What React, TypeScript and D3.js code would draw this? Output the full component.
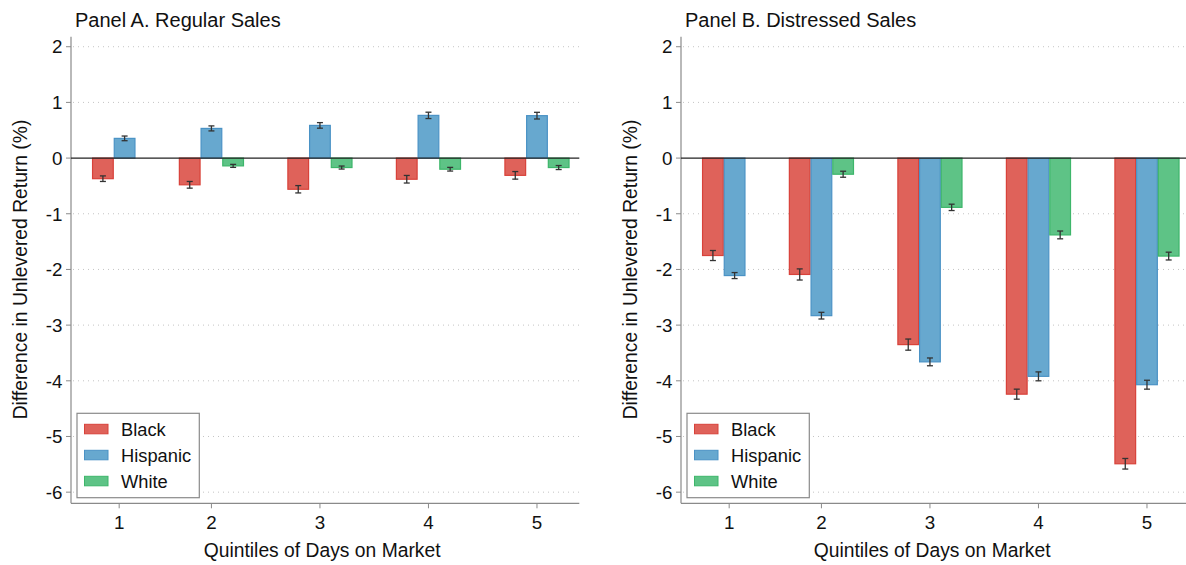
import React from "react";
import * as d3 from "d3";

const quintiles = ["1", "2", "3", "4", "5"];
const seriesNames = ["Black", "Hispanic", "White"];

// Panel A: Regular Sales (value, half-width of error bar); null = not estimated
const regularBlack = [-0.37, -0.48, -0.56, -0.38, -0.31];
const regularBlackErr = [0.05, 0.06, 0.066, 0.068, 0.068];
const regularHispanic = [0.354, 0.533, 0.587, 0.767, 0.762];
const regularHispanicErr = [0.042, 0.045, 0.05, 0.057, 0.06];
const regularWhite: (number | null)[] = [null, -0.14, -0.17, -0.2, -0.17];
const regularWhiteErr = [0, 0.027, 0.027, 0.033, 0.036];

// Panel B: Distressed Sales
const distressedBlack = [-1.75, -2.09, -3.35, -4.24, -5.49];
const distressedBlackErr = [0.09, 0.1, 0.1, 0.09, 0.095];
const distressedHispanic = [-2.11, -2.83, -3.66, -3.92, -4.07];
const distressedHispanicErr = [0.054, 0.06, 0.07, 0.08, 0.08];
const distressedWhite: (number | null)[] = [null, -0.29, -0.885, -1.38, -1.76];
const distressedWhiteErr = [0, 0.054, 0.057, 0.07, 0.07];

const yTicks = [2, 1, 0, -1, -2, -3, -4, -5, -6];

const fills = ["#df625a", "#67a8cf", "#5ec386"];
const strokes = ["#d8423a", "#4a92c5", "#3db66a"];

const FONT = "'Liberation Sans', Arial, Helvetica, sans-serif";

type Panel = {
  title: string;
  values: (number | null)[][];
  errs: number[][];
  left: number;
};

const panels: Panel[] = [
  {
    title: "Panel A. Regular Sales",
    values: [regularBlack, regularHispanic, regularWhite],
    errs: [regularBlackErr, regularHispanicErr, regularWhiteErr],
    left: 71,
  },
  {
    title: "Panel B. Distressed Sales",
    values: [distressedBlack, distressedHispanic, distressedWhite],
    errs: [distressedBlackErr, distressedHispanicErr, distressedWhiteErr],
    left: 681,
  },
];

const TOP = 36.7;
const BOTTOM = 503.3;
const PW = 508.3;
const GAP = 2;

function layout(values: (number | null)[][]) {
  const bars: { g: number; s: number; slot: number; v: number }[] = [];
  const tickPos: number[] = [];
  let cursor = 0;
  quintiles.forEach((_, g) => {
    const start = cursor;
    let n = 0;
    seriesNames.forEach((__, s) => {
      const v = values[s][g];
      if (v !== null && v !== undefined) {
        bars.push({ g, s, slot: cursor, v });
        cursor += 1;
        n += 1;
      }
    });
    const actualCenter = start + n / 2;
    const fullCenter = start + seriesNames.length / 2;
    tickPos.push((actualCenter + fullCenter) / 2);
    cursor += GAP;
  });
  return { bars, tickPos, total: cursor - GAP };
}

function PanelView({ p }: { p: Panel }) {
  const { bars, tickPos, total } = layout(p.values);
  const x = d3.scaleLinear().domain([-0.97, total + 0.45]).range([p.left, p.left + PW]);
  const y = d3.scaleLinear().domain([-6.2, 2.18]).range([BOTTOM, TOP]);
  const bw = x(1) - x(0);
  const right = p.left + PW;
  const legX = p.left + 6;
  const legY = 413.3;
  return (
    <g>
      <text x={p.left + 4} y={27} fontSize={20} fontFamily={FONT} fill="#111">
        {p.title}
      </text>
      {yTicks.filter((t) => t !== 0).map((t) => (
        <line key={t} x1={p.left + 2} x2={right} y1={y(t)} y2={y(t)} stroke="#c4c4c4" strokeWidth={1} strokeDasharray="1 4" />
      ))}
      <line x1={p.left} x2={p.left} y1={TOP} y2={BOTTOM} stroke="#8a8a8a" strokeWidth={1.2} />
      {yTicks.map((t) => (
        <g key={t}>
          <line x1={p.left - 5} x2={p.left} y1={y(t)} y2={y(t)} stroke="#8a8a8a" strokeWidth={1} />
          <text x={p.left - 8.5} y={y(t)} dy="0.36em" textAnchor="end" fontSize={18.8} fontFamily={FONT} fill="#111">
            {t}
          </text>
        </g>
      ))}
      <text
        transform={`translate(${p.left - 44},${269.5}) rotate(-90)`}
        textAnchor="middle"
        fontSize={19.3}
        fontFamily={FONT}
        fill="#111"
      >
        Difference in Unlevered Return (%)
      </text>
      <line x1={p.left} x2={right} y1={BOTTOM} y2={BOTTOM} stroke="#8a8a8a" strokeWidth={1.2} />
      {tickPos.map((tp, i) => (
        <g key={i}>
          <line x1={x(tp)} x2={x(tp)} y1={BOTTOM} y2={BOTTOM + 5} stroke="#8a8a8a" strokeWidth={1} />
          <text x={x(tp)} y={528.5} textAnchor="middle" fontSize={18.8} fontFamily={FONT} fill="#111">
            {quintiles[i]}
          </text>
        </g>
      ))}
      <text x={p.left + PW / 2 - 3} y={556.5} textAnchor="middle" fontSize={19.3} fontFamily={FONT} fill="#111">
        Quintiles of Days on Market
      </text>
      {bars.map((b, i) => {
        const y0 = y(0);
        const y1 = y(b.v);
        return (
          <rect
            key={i}
            x={x(b.slot) + 0.5}
            width={bw - 1}
            y={Math.min(y0, y1)}
            height={Math.abs(y1 - y0)}
            fill={fills[b.s]}
            stroke={strokes[b.s]}
            strokeWidth={1.2}
          />
        );
      })}
      <line x1={p.left} x2={right} y1={y(0)} y2={y(0)} stroke="#222" strokeWidth={1.4} />
      {bars.map((b, i) => {
        const cx = x(b.slot + 0.5);
        const e = p.errs[b.s][b.g];
        const ya = y(b.v + e);
        const yb = y(b.v - e);
        return (
          <g key={i} stroke="#333" strokeWidth={1.3}>
            <line x1={cx} x2={cx} y1={ya} y2={yb} />
            <line x1={cx - 3} x2={cx + 3} y1={ya} y2={ya} />
            <line x1={cx - 3} x2={cx + 3} y1={yb} y2={yb} />
          </g>
        );
      })}
      <rect x={legX} y={legY} width={122.3} height={84.4} fill="#fff" stroke="#8a8a8a" strokeWidth={1.2} />
      {seriesNames.map((n, s) => (
        <g key={n}>
          <rect x={legX + 7.5} y={legY + 11 + s * 26} width={23.5} height={9.5} fill={fills[s]} stroke={strokes[s]} strokeWidth={1} />
          <text x={legX + 44} y={legY + 16 + s * 26} dy="0.36em" fontSize={18.3} fontFamily={FONT} fill="#111">
            {n}
          </text>
        </g>
      ))}
    </g>
  );
}

export default function App() {
  return (
    <svg width={1186} height={565} style={{ position: "absolute", left: 0, top: 0, background: "#fff" }}>
      <rect width={1186} height={565} fill="#fff" />
      {panels.map((p) => (
        <PanelView key={p.title} p={p} />
      ))}
    </svg>
  );
}
